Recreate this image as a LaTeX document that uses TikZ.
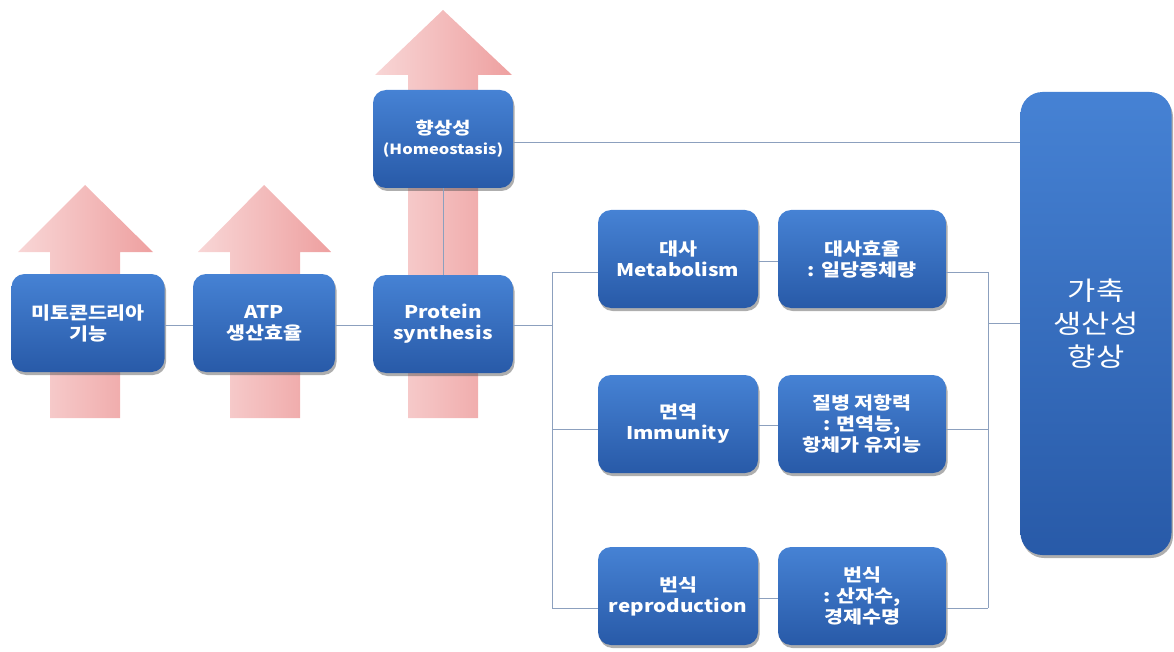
\documentclass[tikz,border=0pt]{standalone}
\usepackage{fontspec}
\setmainfont{Noto Sans CJK KR}[FakeStretch=1.18]
\usetikzlibrary{shadows}
\definecolor{boxtop}{RGB}{70,130,212}
\definecolor{boxbot}{RGB}{40,90,168}
\definecolor{pinkL}{RGB}{248,214,214}
\definecolor{pinkR}{RGB}{238,160,160}
\definecolor{linecol}{RGB}{140,160,190}
\tikzset{
  bluebox/.style={draw=none, rounded corners=13pt, top color=boxtop, bottom color=boxbot,
    text=white, align=center, inner sep=0pt,
    drop shadow={opacity=0.45, shadow xshift=1.5pt, shadow yshift=-3pt, fill=black!70}},
  small/.style={bluebox, minimum width=#1, minimum height=98pt, font=\bfseries\fontsize{17.5}{21}\selectfont},
  bigbox/.style={bluebox, rounded corners=22pt, minimum width=151pt, minimum height=463pt, font=\fontsize{26}{33}\selectfont},
  upar/.style={left color=pinkL, right color=pinkR, draw=none},
  conn/.style={draw=linecol, line width=0.9pt}
}
\begin{document}
\begin{tikzpicture}[x=1pt,y=-1pt]
\useasboundingbox (0,0) rectangle (1174,652);
% pink up arrows
\path[upar] (50,418) -- (50,252) -- (18,252) -- (85,185) -- (153,252) -- (120,252) -- (120,418) -- cycle;
\path[upar] (230,418) -- (230,252) -- (198,252) -- (264,185) -- (331,252) -- (300,252) -- (300,418) -- cycle;
\path[upar] (408,418) -- (408,75) -- (375,75) -- (443,10) -- (512,75) -- (478,75) -- (478,418) -- cycle;
% connector coordinates
\coordinate (lb) at (552,325);
\coordinate (lbt) at (552,272);
\coordinate (lbm) at (552,429);
\coordinate (lbb) at (552,608);
\coordinate (rbt) at (988,272);
\coordinate (rbm) at (988,429);
\coordinate (rbb) at (988,608);
\coordinate (rbc) at (988,323);
% nodes
\node[small=153pt] (mito) at (88,323) {미토콘드리아\\기능};
\node[small=142pt] (atp) at (264,323) {ATP\\생산효율};
\node[small=140pt] (prot) at (443,324) {Protein\\synthesis};
\node[small=140pt] (homeo) at (443,139) {{\fontsize{17}{20}\selectfont 향상성}\\[-1pt]{\fontsize{14}{18}\selectfont(Homeostasis)}};
\node[small=160pt] (meta) at (678,259) {대사\\Metabolism};
\node[small=168pt] (metaeff) at (862,259) {대사효율\\: 일당증체량};
\node[small=160pt] (immu) at (678,424) {면역\\Immunity};
\node[small=168pt] (dis) at (862,424) {질병 저항력\\: 면역능,\\항체가 유지능};
\node[small=160pt] (repro) at (678,596) {번식\\reproduction};
\node[small=168pt] (reproeff) at (862,596) {번식\\: 산자수,\\경제수명};
\node[bigbox] (goal) at (1096,323.5) {가축\\생산성\\향상};
% connectors
\draw[conn] (mito.east |- 0,325) -- (atp.west |- 0,325);
\draw[conn] (atp.east |- 0,325) -- (prot.west |- 0,325);
\draw[conn] (prot.north) -- (homeo.south);
\draw[conn] (homeo.east |- 0,142) -- (goal.west |- 0,142);
\draw[conn] (prot.east |- lb) -- (lb);
\draw[conn] (lbt) -- (lbb);
\draw[conn] (lbt) -- (meta.west |- lbt);
\draw[conn] (lbm) -- (immu.west |- lbm);
\draw[conn] (lbb) -- (repro.west |- lbb);
\draw[conn] (meta.east |- 0,261) -- (metaeff.west |- 0,261);
\draw[conn] (immu.east |- 0,425) -- (dis.west |- 0,425);
\draw[conn] (repro.east |- 0,598) -- (reproeff.west |- 0,598);
\draw[conn] (metaeff.east |- rbt) -- (rbt);
\draw[conn] (dis.east |- rbm) -- (rbm);
\draw[conn] (reproeff.east |- rbb) -- (rbb);
\draw[conn] (rbt) -- (rbb);
\draw[conn] (rbc) -- (goal.west |- rbc);
\end{tikzpicture}
\end{document}
